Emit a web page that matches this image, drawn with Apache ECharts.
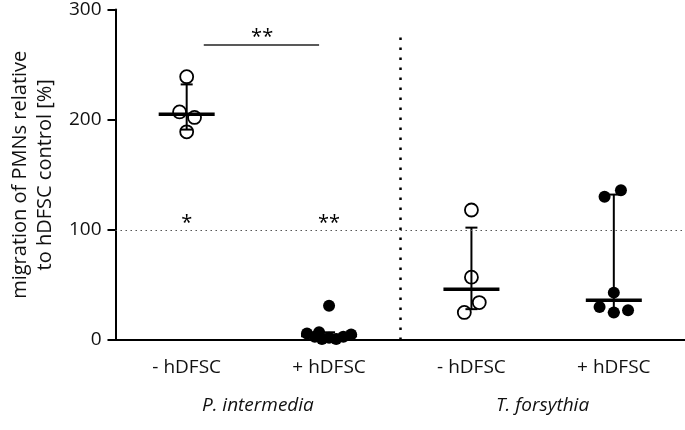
<!DOCTYPE html>
<html>
<head>
<meta charset="utf-8">
<script src="https://cdn.jsdelivr.net/npm/echarts@6/dist/echarts.min.js"></script>
<style>
  html, body { margin: 0; background: #fff; }
  #chart { width: 685px; height: 430px; }
</style>
</head>
<body>
<div id="chart"></div>
<script>
const conditions = ["- hDFSC", "+ hDFSC", "- hDFSC", "+ hDFSC"]
const species = ["P. intermedia", "T. forsythia"]

// single donors; x = group position plus a small swarm offset
const pimNegX = [1, 0.95, 1.055, 1]
const pimNegY = [239, 207, 202, 189]
const pimPosX = [2, 1.845, 1.9, 1.95, 2, 2.05, 2.1, 2.155, 1.93]
const pimPosY = [31, 6, 3, 1, 2, 1, 3, 5, 7]
const tfoNegX = [3, 3, 3.055, 2.95]
const tfoNegY = [118, 57, 34, 25]
const tfoPosX = [3.935, 4.05, 4, 3.9, 4, 4.1]
const tfoPosY = [130, 136, 43, 30, 25, 27]

// median with range bars
const medians = [205, 4, 46, 36]
const lower = [191, 1, 28, 25]
const upper = [232, 7, 102, 132]

// significance
const sigBar = [[1.12, 268], [1.93, 268]]
const sigMarks = [[1.53, 275, "**"], [1, 106, "*"], [2, 106, "**"]]
const refLine = 100
const divider = [[2.5, 0], [2.5, 281]]

const font = "'Open Sans', sans-serif"
const ink = "#111"
const pair = (xs, ys) => xs.map((x, i) => [x, ys[i]])

const chart = echarts.init(document.getElementById("chart"))

chart.setOption({
  animation: false,
  grid: { left: 113, right: 0, top: 9, bottom: 90 },
  xAxis: [
    {
      type: "category",
      data: conditions,
      boundaryGap: true,
      axisLine: { lineStyle: { color: "#000", width: 2 } },
      axisTick: { alignWithLabel: true, length: 7, lineStyle: { color: "#000", width: 2 } },
      axisLabel: { color: ink, fontSize: 19, fontFamily: font, margin: 18 }
    },
    { type: "value", min: 0.5, max: 4.5, show: false },
    {
      type: "category",
      data: species,
      position: "bottom",
      offset: 38,
      axisLine: { show: false },
      axisTick: { show: false },
      axisLabel: { color: ink, fontSize: 19, fontFamily: font, fontStyle: "italic", margin: 18 }
    }
  ],
  yAxis: {
    type: "value",
    min: 0,
    max: 300,
    interval: 100,
    name: "migration of PMNs relative\nto hDFSC control [%]",
    nameLocation: "middle",
    nameGap: 55,
    nameTextStyle: { color: ink, fontSize: 20, fontFamily: font, lineHeight: 25 },
    axisLine: { show: true, lineStyle: { color: "#000", width: 2 } },
    axisTick: { show: true, length: 8, lineStyle: { color: "#000", width: 2 } },
    axisLabel: { color: ink, fontSize: 19, fontFamily: font, margin: 14 },
    splitLine: { show: false }
  },
  series: [
    {
      type: "custom",
      xAxisIndex: 1,
      z: 2,
      data: medians.map((m, i) => [i + 1, m, lower[i], upper[i]]),
      renderItem(params, api) {
        const x = api.value(0)
        const m = api.coord([x, api.value(1)])
        const lo = api.coord([x, api.value(2)])
        const hi = api.coord([x, api.value(3)])
        const half = 28
        const cap = 6
        const st = { stroke: "#000", lineWidth: 2 }
        return {
          type: "group",
          children: [
            { type: "line", shape: { x1: hi[0], y1: hi[1], x2: lo[0], y2: lo[1] }, style: st },
            { type: "line", shape: { x1: hi[0] - cap, y1: hi[1], x2: hi[0] + cap, y2: hi[1] }, style: st },
            { type: "line", shape: { x1: lo[0] - cap, y1: lo[1], x2: lo[0] + cap, y2: lo[1] }, style: st },
            { type: "line", shape: { x1: m[0] - half, y1: m[1], x2: m[0] + half, y2: m[1] }, style: { stroke: "#000", lineWidth: 3.5 } }
          ]
        }
      },
      markLine: {
        silent: true,
        symbol: "none",
        label: { show: false },
        data: [
          { yAxis: refLine, lineStyle: { color: "#555", width: 1.2, type: [1.5, 3.5] } },
          [
            { coord: divider[0], lineStyle: { color: "#000", width: 2.5, type: [2.5, 7.5] } },
            { coord: divider[1] }
          ],
          [
            { coord: sigBar[0], lineStyle: { color: "#222", width: 1.5, type: "solid" } },
            { coord: sigBar[1] }
          ]
        ]
      }
    },
    {
      type: "scatter",
      xAxisIndex: 1,
      z: 3,
      symbolSize: 13,
      itemStyle: { color: "rgba(0,0,0,0)", borderColor: "#000", borderWidth: 1.8, opacity: 1 },
      data: pair(pimNegX, pimNegY).concat(pair(tfoNegX, tfoNegY))
    },
    {
      type: "scatter",
      xAxisIndex: 1,
      z: 3,
      symbolSize: 12,
      itemStyle: { color: "#000", opacity: 1 },
      data: pair(pimPosX, pimPosY).concat(pair(tfoPosX, tfoPosY))
    },
    {
      type: "scatter",
      xAxisIndex: 1,
      z: 4,
      symbolSize: 0,
      silent: true,
      itemStyle: { opacity: 1 },
      label: {
        show: true,
        position: "inside",
        formatter: p => p.value[2],
        color: "#000",
        fontSize: 20,
        fontFamily: font
      },
      data: sigMarks
    }
  ]
})
</script>
</body>
</html>
